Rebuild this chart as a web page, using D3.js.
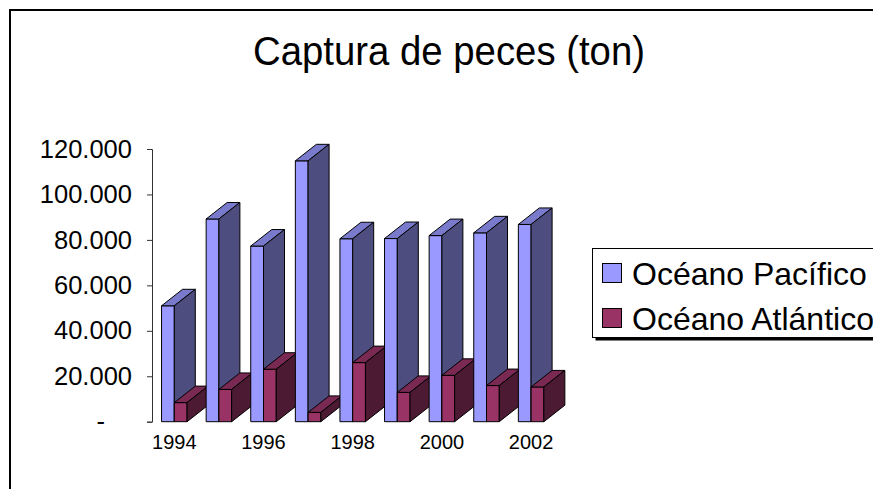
<!DOCTYPE html>
<html lang='es'>
<head>
  <meta charset='UTF-8'>
  <title>Captura de peces (ton)</title>
  <style>
  body {
    margin: 0;
    background: white;
  }
  svg {
    display: block;
    font-family: 'Liberation Sans', Arial, sans-serif;
  }
  .axis path, .axis line {
    stroke: #333;
  }
  .bar-face {
    stroke: black;
    stroke-width: 1;
    stroke-linejoin: round;
  }
  </style>
  <script src='https://d3js.org/d3.v7.min.js'></script>
</head>
<body>
  <script>

  // data
  var years = ['1994', '1995', '1996', '1997', '1998', '1999', '2000', '2001', '2002'];
  var pacifico = [51000, 89200, 77300, 114800, 80500, 80600, 81900, 83100, 86800];
  var atlantico = [8400, 14200, 23100, 4100, 26000, 12900, 20400, 15900, 15300];
  var seriesNames = ['Océano Pacífico', 'Océano Atlántico'];
  var yTicks = [0, 20000, 40000, 60000, 80000, 100000, 120000];
  var xLabels = ['1994', '1996', '1998', '2000', '2002'];

  var svgWidth = 873;
  var svgHeight = 489;

  // colours: front, top, side
  var colors = [
    { front: '#9999ff', top: '#7a7acc', side: '#4d4d80' },
    { front: '#993366', top: '#7a2952', side: '#4d1a33' }
  ];

  var depthX = 21;
  var depthY = 16.5;

  var svg = d3.select('body').append('svg')
    .attr('width', svgWidth)
    .attr('height', svgHeight);

  svg.append('rect')
    .attr('width', svgWidth)
    .attr('height', svgHeight)
    .attr('fill', 'white');

  // outer chart frame (runs past the right and bottom edges)
  svg.append('rect')
    .attr('x', 10)
    .attr('y', 10)
    .attr('width', 900)
    .attr('height', 520)
    .attr('fill', 'none')
    .attr('stroke', 'black')
    .attr('stroke-width', 2);

  // title
  svg.append('text')
    .attr('x', 449)
    .attr('y', 65)
    .attr('text-anchor', 'middle')
    .attr('font-size', 41)
    .attr('textLength', 392)
    .attr('lengthAdjust', 'spacingAndGlyphs')
    .text('Captura de peces (ton)');

  // scales
  var plotLeft = 152;
  var step = 44.6;
  var x0 = d3.scaleBand()
    .domain(years)
    .range([plotLeft, plotLeft + step * years.length])
    .paddingInner(0.428)
    .paddingOuter(0.214);

  var x1 = d3.scaleBand()
    .domain(seriesNames)
    .range([0, x0.bandwidth()]);

  var y = d3.scaleLinear()
    .domain([0, 120000])
    .range([421.7, 149]);

  // y axis
  var yAxis = svg.append('g')
    .attr('class', 'axis')
    .attr('transform', 'translate(' + plotLeft + ',0)')
    .call(d3.axisLeft(y)
      .tickValues(yTicks)
      .tickSize(5)
      .tickSizeOuter(5)
      .tickPadding(15)
      .tickFormat(function (d) {
        return d === 0 ? '-' : d3.format(',')(d).replace(/,/g, '.');
      }));

  yAxis.selectAll('text')
    .attr('font-size', 25.5)
    .attr('font-family', "'Liberation Sans', Arial, sans-serif")
    .attr('fill', 'black');

  yAxis.selectAll('.tick')
    .filter(function (d) { return d === 0; })
    .select('text')
    .attr('x', -47);

  // x labels, every other year
  var xAxis = svg.append('g')
    .attr('class', 'axis')
    .attr('transform', 'translate(0,' + y(0) + ')')
    .call(d3.axisBottom(x0).tickValues(xLabels).tickSize(0).tickPadding(13));

  xAxis.select('.domain').remove();
  xAxis.selectAll('text')
    .attr('font-size', 20)
    .attr('font-family', "'Liberation Sans', Arial, sans-serif")
    .attr('fill', 'black');

  // 3d bars, drawn left to right so later fronts cover earlier sides
  var series = [pacifico, atlantico];
  var bars = svg.append('g');

  years.forEach(function (year, i) {
    series.forEach(function (values, s) {
      var left = x0(year) + x1(seriesNames[s]);
      var w = x1.bandwidth();
      var top = y(values[i]);
      var base = y(0);
      var g = bars.append('g');

      g.append('rect')
        .attr('class', 'bar-face')
        .attr('x', left)
        .attr('y', top)
        .attr('width', w)
        .attr('height', base - top)
        .attr('fill', colors[s].front);

      g.append('path')
        .attr('class', 'bar-face')
        .attr('fill', colors[s].top)
        .attr('d', 'M' + left + ',' + top +
          'L' + (left + depthX) + ',' + (top - depthY) +
          'L' + (left + w + depthX) + ',' + (top - depthY) +
          'L' + (left + w) + ',' + top + 'Z');

      g.append('path')
        .attr('class', 'bar-face')
        .attr('fill', colors[s].side)
        .attr('d', 'M' + (left + w) + ',' + top +
          'L' + (left + w + depthX) + ',' + (top - depthY) +
          'L' + (left + w + depthX) + ',' + (base - depthY) +
          'L' + (left + w) + ',' + base + 'Z');
    });
  });

  // legend
  var legend = svg.append('g');

  legend.append('rect')
    .attr('x', 595.5)
    .attr('y', 251.5)
    .attr('width', 300)
    .attr('height', 89)
    .attr('fill', 'black');

  legend.append('rect')
    .attr('x', 592.5)
    .attr('y', 248.5)
    .attr('width', 300)
    .attr('height', 89)
    .attr('fill', 'white')
    .attr('stroke', 'black')
    .attr('stroke-width', 1);

  seriesNames.forEach(function (name, s) {
    legend.append('rect')
      .attr('x', 602.5)
      .attr('y', 263.5 + s * 45)
      .attr('width', 19)
      .attr('height', 19)
      .attr('fill', colors[s].front)
      .attr('stroke', 'black');

    legend.append('text')
      .attr('x', 632)
      .attr('y', 285 + s * 45)
      .attr('font-size', 32)
      .text(name);
  });
  </script>
</body>
</html>
